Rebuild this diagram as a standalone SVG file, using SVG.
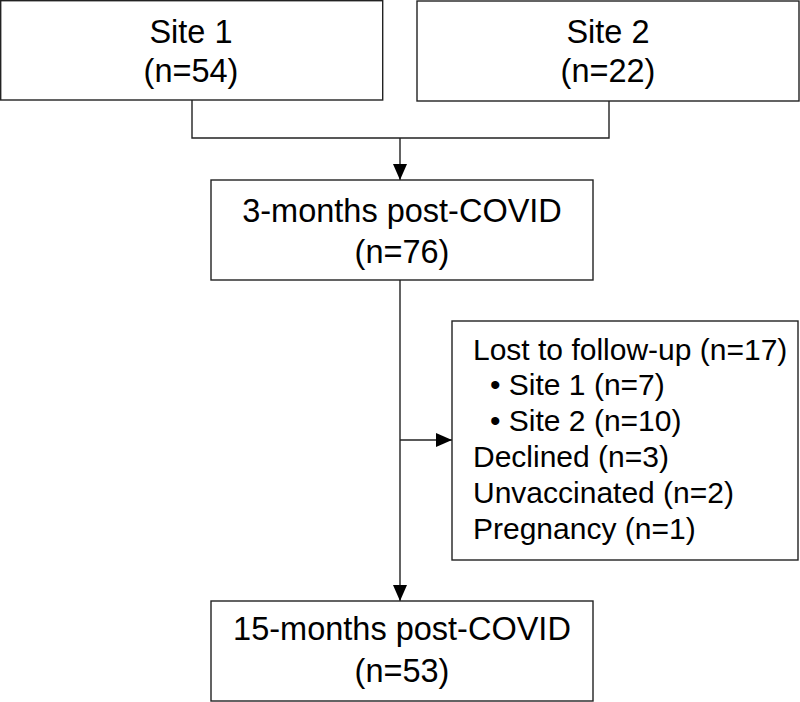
<svg xmlns="http://www.w3.org/2000/svg" width="800" height="702" viewBox="0 0 800 702">
<defs>
<marker id="ah" markerWidth="16" markerHeight="14" refX="16" refY="7" orient="auto" markerUnits="userSpaceOnUse">
<path d="M0,0 L16,7 L0,14 Z" fill="#000"/>
</marker>
<style>
.box{fill:#fff;stroke:#222;stroke-width:1.4}
.ln{fill:none;stroke:#222;stroke-width:1.4}
text{font-family:"Liberation Sans",Arial,sans-serif;font-size:32.5px;fill:#000}
.c{text-anchor:middle}
.s{font-size:30px}
</style>
</defs>
<rect width="800" height="702" fill="#fff"/>
<g id="connectors">
<path class="ln" d="M192,100 V138 H609 V101"/>
<path class="ln" d="M400,138 V180" marker-end="url(#ah)"/>
<path class="ln" d="M400,280 V601" marker-end="url(#ah)"/>
<path class="ln" d="M400,440 H452" marker-end="url(#ah)"/>
</g>
<g id="site1">
<rect class="box" x="0.7" y="0.7" width="382" height="99.3"/>
<text class="c" x="191" y="43">Site 1</text>
<text class="c" x="191" y="82">(n=54)</text>
</g>
<g id="site2">
<rect class="box" x="417" y="1" width="382" height="100"/>
<text class="c" x="608" y="43">Site 2</text>
<text class="c" x="608" y="82">(n=22)</text>
</g>
<g id="m3">
<rect class="box" x="211" y="180" width="382" height="100"/>
<text class="c" x="402" y="222">3-months post-COVID</text>
<text class="c" x="402" y="263">(n=76)</text>
</g>
<g id="excluded">
<rect class="box" x="452" y="321" width="346" height="239"/>
<text class="s" x="473" y="360">Lost to follow-up (n=17)</text>
<text class="s" x="490" y="395">• Site 1 (n=7)</text>
<text class="s" x="490" y="431">• Site 2 (n=10)</text>
<text class="s" x="473" y="467">Declined (n=3)</text>
<text class="s" x="473" y="503">Unvaccinated (n=2)</text>
<text class="s" x="473" y="539">Pregnancy (n=1)</text>
</g>
<g id="m15">
<rect class="box" x="211" y="601" width="382" height="100"/>
<text class="c" x="402" y="640">15-months post-COVID</text>
<text class="c" x="402" y="682">(n=53)</text>
</g>
</svg>
